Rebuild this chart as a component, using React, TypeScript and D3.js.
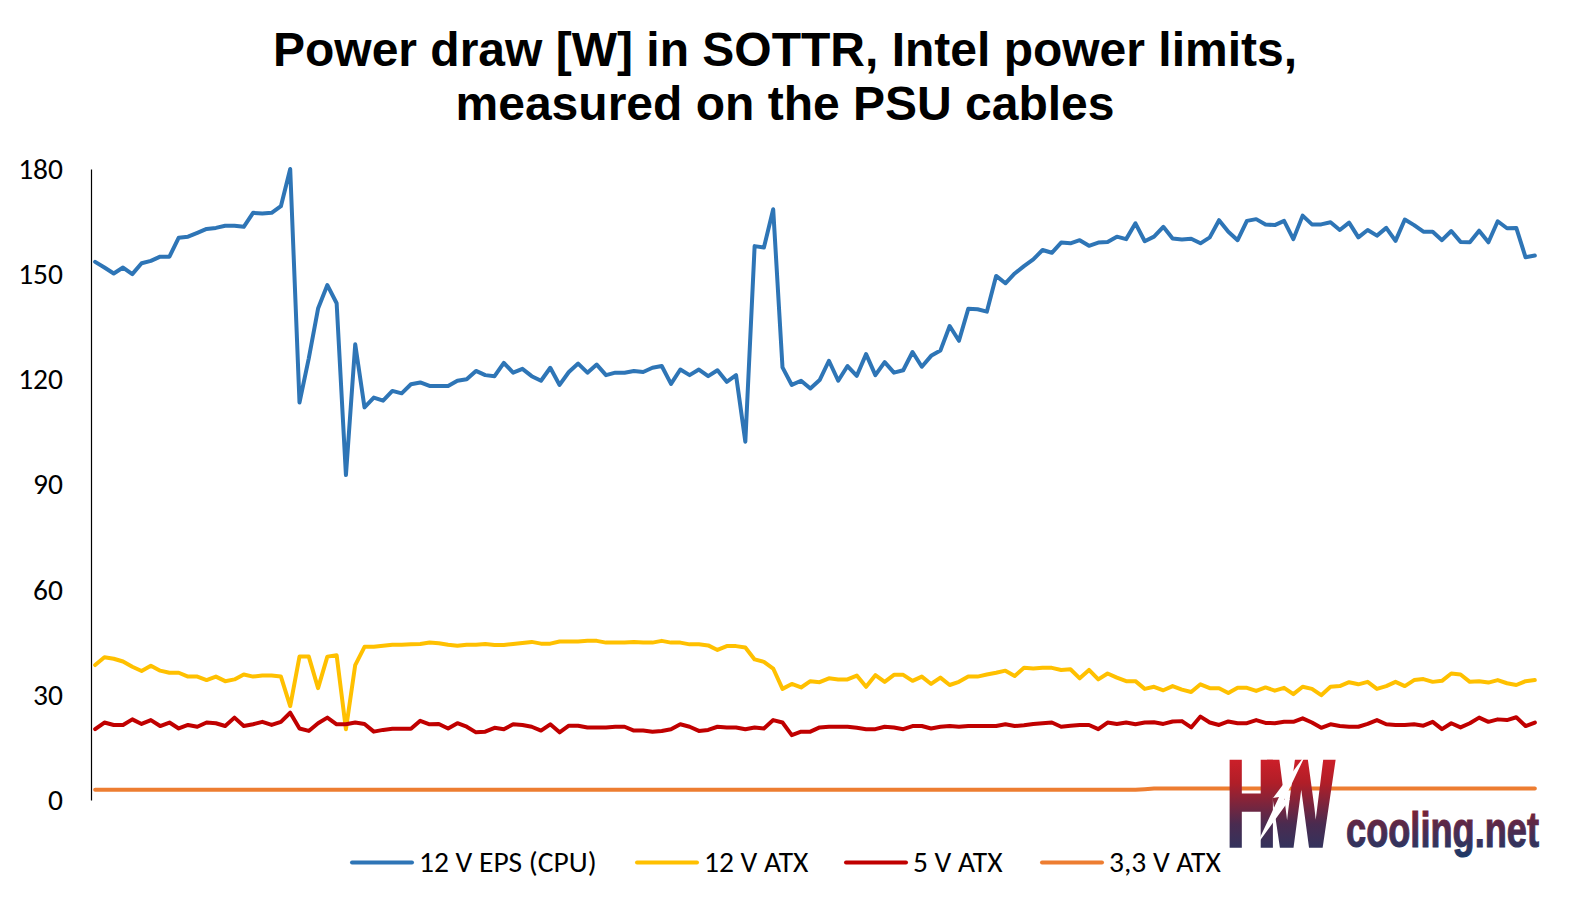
import React, { useEffect, useRef } from "react";
import * as d3 from "d3";

// ---- data ----
const eps12v: number[] = [
  153.5, 151.9, 150.2, 151.9, 150.0, 153.1, 153.8, 155.0, 155.0, 160.4,
  160.7, 161.8, 162.9, 163.2, 163.8, 163.8, 163.5, 167.5, 167.3, 167.5,
  169.4, 180.0, 113.4, 126.0, 140.2, 146.9, 141.7, 92.7, 130.0, 112.0,
  114.8, 113.9, 116.7, 116.0, 118.6, 119.1, 118.1, 118.1, 118.1, 119.6,
  120.0, 122.4, 121.2, 120.9, 124.7, 121.9, 123.0, 120.9, 119.6, 123.3,
  118.4, 122.1, 124.5, 121.9, 124.2, 121.2, 121.9, 121.9, 122.4, 122.1,
  123.3, 123.8, 118.7, 122.8, 121.2, 122.8, 120.9, 122.6, 119.3, 121.2,
  102.2, 158.0, 157.6, 168.5, 123.4, 118.4, 119.6, 117.4, 119.8, 125.3,
  119.6, 123.8, 121.0, 127.2, 121.2, 124.9, 121.9, 122.6, 127.8, 123.6,
  126.7, 128.2, 135.2, 131.0, 140.1, 140.0, 139.3, 149.5, 147.4, 150.2,
  152.3, 154.2, 156.9, 156.1, 159.0, 158.8, 159.7, 158.1, 159.0, 159.2,
  160.7, 160.0, 164.5, 159.4, 160.7, 163.5, 160.2, 159.9, 160.1, 158.8,
  160.5, 165.4, 162.1, 159.7, 165.2, 165.7, 164.2, 164.0, 165.2, 160.0,
  166.7, 164.2, 164.2, 164.8, 162.6, 164.7, 160.5, 162.6, 161.0, 163.2,
  159.5, 165.6, 164.0, 162.1, 162.1, 159.7, 162.3, 159.2, 159.1, 162.4,
  159.1, 165.1, 163.1, 163.2, 154.8, 155.3,
];

const atx12v: number[] = [
  38.5, 40.7, 40.3, 39.5, 38.0, 36.8, 38.3, 36.9, 36.3, 36.3,
  35.2, 35.2, 34.2, 35.2, 33.9, 34.4, 35.8, 35.2, 35.5, 35.5,
  35.2, 26.8, 40.9, 40.9, 31.9, 40.9, 41.3, 20.2, 38.5, 43.7,
  43.7, 44.0, 44.3, 44.3, 44.4, 44.5, 44.9, 44.7, 44.3, 44.0,
  44.3, 44.3, 44.5, 44.2, 44.2, 44.5, 44.8, 45.1, 44.6, 44.6,
  45.2, 45.2, 45.2, 45.4, 45.4, 44.9, 44.9, 44.9, 45.1, 44.9,
  44.9, 45.4, 44.9, 44.9, 44.4, 44.4, 44.1, 42.8, 43.9, 43.9,
  43.5, 40.1, 39.4, 37.5, 31.7, 33.1, 32.1, 33.9, 33.6, 34.7,
  34.4, 34.4, 35.5, 32.3, 35.6, 33.7, 35.7, 35.7, 34.0, 35.2,
  33.1, 34.9, 32.8, 33.7, 35.2, 35.2, 35.8, 36.3, 36.9, 35.4,
  37.7, 37.5, 37.7, 37.7, 37.1, 37.3, 34.7, 37.1, 34.4, 36.1,
  34.9, 33.9, 33.9, 31.7, 32.3, 31.3, 32.5, 31.5, 30.8, 33.0,
  31.9, 31.9, 30.5, 32.0, 32.0, 31.1, 32.1, 31.2, 32.0, 30.2,
  32.3, 31.7, 29.9, 32.3, 32.5, 33.6, 33.0, 33.7, 31.7, 32.5,
  33.7, 32.5, 34.2, 34.5, 33.7, 34.0, 36.1, 35.8, 33.7, 33.9,
  33.5, 34.2, 33.3, 32.8, 33.9, 34.2,
];

const atx5v: number[] = [
  20.2, 22.1, 21.4, 21.4, 23.0, 21.7, 22.8, 21.1, 22.1, 20.4,
  21.4, 20.9, 22.1, 21.9, 21.1, 23.5, 21.1, 21.6, 22.3, 21.4,
  22.3, 24.9, 20.4, 19.7, 21.9, 23.5, 21.6, 21.6, 22.1, 21.7,
  19.5, 20.0, 20.3, 20.3, 20.3, 22.6, 21.6, 21.7, 20.4, 21.9,
  20.9, 19.3, 19.5, 20.6, 20.2, 21.6, 21.4, 20.9, 19.8, 21.6,
  19.3, 21.2, 21.2, 20.7, 20.7, 20.7, 20.9, 20.9, 19.8, 19.8,
  19.5, 19.7, 20.2, 21.6, 20.9, 19.7, 20.0, 20.9, 20.7, 20.7,
  20.2, 20.7, 20.4, 22.8, 22.1, 18.5, 19.5, 19.5, 20.7, 20.9,
  20.9, 20.9, 20.6, 20.2, 20.2, 20.9, 20.7, 20.2, 21.1, 21.1,
  20.4, 20.9, 21.1, 20.9, 21.1, 21.1, 21.1, 21.1, 21.6, 21.1,
  21.3, 21.7, 21.9, 22.1, 20.9, 21.2, 21.4, 21.4, 20.2, 22.1,
  21.7, 22.1, 21.6, 22.1, 22.2, 21.7, 22.4, 22.5, 20.7, 23.8,
  22.1, 21.4, 22.4, 21.9, 21.9, 22.8, 22.0, 21.9, 22.3, 22.3,
  23.3, 22.1, 20.6, 21.6, 21.1, 20.9, 20.9, 21.7, 22.8, 21.6,
  21.4, 21.4, 21.6, 21.2, 22.3, 20.2, 21.9, 20.7, 21.9, 23.5,
  22.3, 23.0, 22.8, 23.6, 21.1, 22.1,
];

const atx33v: number[] = [
  2.9, 2.9, 2.9, 2.9, 2.9, 2.9, 2.9, 2.9, 2.9, 2.9,
  2.9, 2.9, 2.9, 2.9, 2.9, 2.9, 2.9, 2.9, 2.9, 2.9,
  2.9, 2.9, 2.9, 2.9, 2.9, 2.9, 2.9, 2.9, 2.9, 2.9,
  2.9, 2.9, 2.9, 2.9, 2.9, 2.9, 2.9, 2.9, 2.9, 2.9,
  2.9, 2.9, 2.9, 2.9, 2.9, 2.9, 2.9, 2.9, 2.9, 2.9,
  2.9, 2.9, 2.9, 2.9, 2.9, 2.9, 2.9, 2.9, 2.9, 2.9,
  2.9, 2.9, 2.9, 2.9, 2.9, 2.9, 2.9, 2.9, 2.9, 2.9,
  2.9, 2.9, 2.9, 2.9, 2.9, 2.9, 2.9, 2.9, 2.9, 2.9,
  2.9, 2.9, 2.9, 2.9, 2.9, 2.9, 2.9, 2.9, 2.9, 2.9,
  2.9, 2.9, 2.9, 2.9, 2.9, 2.9, 2.9, 2.9, 2.9, 2.9,
  2.9, 2.9, 2.9, 2.9, 2.9, 2.9, 2.9, 2.9, 2.9, 2.9,
  2.9, 2.9, 2.9, 3.1, 3.3, 3.3, 3.3, 3.3, 3.3, 3.3,
  3.3, 3.3, 3.3, 3.3, 3.3, 3.3, 3.3, 3.3, 3.3, 3.3,
  3.3, 3.3, 3.3, 3.3, 3.3, 3.3, 3.3, 3.3, 3.3, 3.3,
  3.3, 3.3, 3.3, 3.3, 3.3, 3.3, 3.3, 3.3, 3.3, 3.3,
  3.3, 3.3, 3.3, 3.3, 3.3, 3.3,
];

const seriesNames = ["12 V EPS (CPU)", "12 V ATX", "5 V ATX", "3,3 V ATX"];
const seriesColors = ["#2E75B6", "#FFC000", "#C00000", "#ED7D31"];
const seriesValues = [eps12v, atx12v, atx5v, atx33v];
const yTicks = [0, 30, 60, 90, 120, 150, 180];
const titleLines = ["Power draw [W] in SOTTR, Intel power limits,", "measured on the PSU cables"];
const logoMark = "HW";
const logoWord = "cooling.net";

const W = 1571;
const H = 907;
const plotLeft = 90.5;
const plotRight = 1539.5;
const plotTop = 169;
const plotBottom = 800;
const legendLineX = [352, 637, 846, 1042];
const labelFont = "Carlito, Calibri, Lato, 'Open Sans', sans-serif";
const labelSize = 29.5;

export default function App() {
  const axisRef = useRef<SVGGElement>(null);
  const samples = eps12v.map((_, i) => i);

  const x = d3.scalePoint<number>().domain(samples).range([plotLeft, plotRight]).padding(0.5);
  const y = d3.scaleLinear().domain([0, 180]).range([plotBottom, plotTop]);
  const line = d3
    .line<number>()
    .x((_, i) => x(i) as number)
    .y((d) => y(d));

  useEffect(() => {
    if (!axisRef.current) return;
    const g = d3.select(axisRef.current);
    g.selectAll("*").remove();
    g.call(d3.axisLeft(y).tickValues(yTicks).tickSize(0).tickSizeOuter(0).tickPadding(28).tickFormat(d3.format("d")));
    g.select(".domain").attr("stroke", "#000").attr("stroke-width", 1.2);
    g.selectAll("text")
      .attr("font-family", labelFont)
      .attr("font-size", labelSize)
      .attr("fill", "#000");
  }, []);

  return (
    <svg
      width={W}
      height={H}
      viewBox={`0 0 ${W} ${H}`}
      style={{ position: "absolute", left: 0, top: 0, background: "#fff" }}
    >
      <defs>
        <linearGradient id="hwGrad" x1="0" y1="0" x2="0" y2="1">
          <stop offset="0%" stopColor="#E8202A" />
          <stop offset="35%" stopColor="#B01E28" />
          <stop offset="65%" stopColor="#4A2B50" />
          <stop offset="100%" stopColor="#1C3A68" />
        </linearGradient>
        <linearGradient id="coolGrad" x1="0" y1="0" x2="0" y2="1">
          <stop offset="0%" stopColor="#8E1C2A" />
          <stop offset="55%" stopColor="#4A2C52" />
          <stop offset="100%" stopColor="#1C3A68" />
        </linearGradient>
      </defs>
      <rect x={0} y={0} width={W} height={H} fill="#fff" />

      <text
        x={785}
        textAnchor="middle"
        fontFamily="'Liberation Sans', Arial, sans-serif"
        fontWeight="bold"
        fontSize={48}
        fill="#000"
      >
        <tspan x={785} y={66}>{titleLines[0]}</tspan>
        <tspan x={785} y={120}>{titleLines[1]}</tspan>
      </text>

      <g ref={axisRef} transform={`translate(${91},0)`} />

      {seriesValues.map((vals, k) => (
        <path
          key={seriesNames[k]}
          d={line(vals) || ""}
          fill="none"
          stroke={seriesColors[k]}
          strokeWidth={4}
          strokeLinejoin="round"
          strokeLinecap="round"
        />
      ))}

      {/* logo watermark */}
      <g>
        <text
          transform="translate(1226,846) scale(0.7,1.22)"
          x={0}
          y={0}
          fontFamily="'Liberation Sans', Arial, sans-serif"
          fontWeight="bold"
          fontSize={100}
          letterSpacing={-12}
          fill="url(#hwGrad)"
          stroke="url(#hwGrad)"
          strokeWidth={3}
        >
          {logoMark}
        </text>
        <polygon
          points="1306,754 1284,800 1290,799 1256,846 1279,797 1273,798"
          fill="#fff"
        />
        <text
          transform="translate(1346,847) scale(1,1.4)"
          x={0}
          y={0}
          fontFamily="'Liberation Sans', Arial, sans-serif"
          fontWeight="bold"
          fontSize={36}
          textLength={193}
          lengthAdjust="spacingAndGlyphs"
          fill="url(#coolGrad)"
          stroke="url(#coolGrad)"
          strokeWidth={0.8}
        >
          {logoWord}
        </text>
      </g>

      {/* legend */}
      {seriesNames.map((name, k) => (
        <g key={name}>
          <line
            x1={legendLineX[k]}
            x2={legendLineX[k] + 60}
            y1={862.5}
            y2={862.5}
            stroke={seriesColors[k]}
            strokeWidth={4}
            strokeLinecap="round"
          />
          <text
            x={legendLineX[k] + 67}
            y={872}
            fontFamily={labelFont}
            fontSize={labelSize}
            fill="#000"
          >
            {name}
          </text>
        </g>
      ))}
    </svg>
  );
}
